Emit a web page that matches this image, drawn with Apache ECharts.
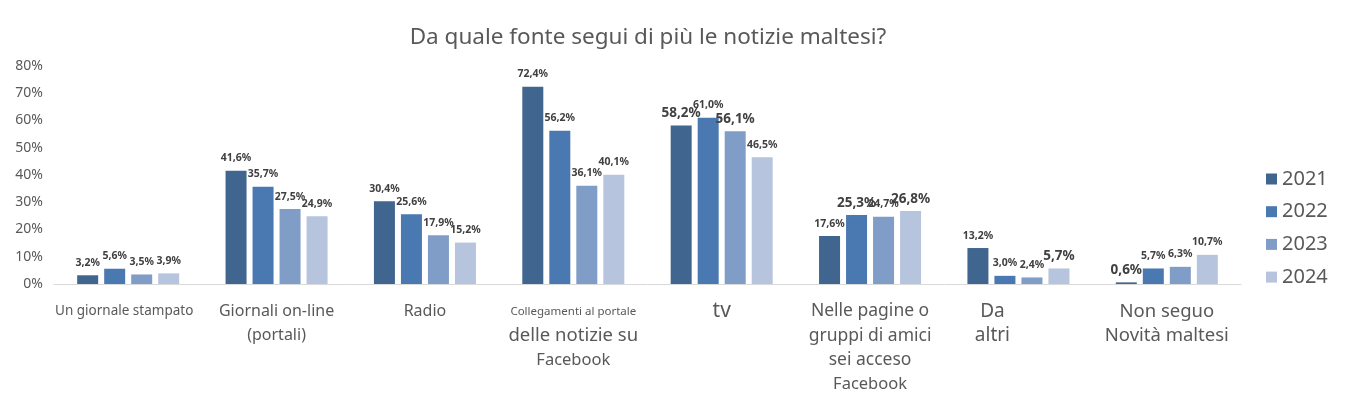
<!DOCTYPE html>
<html><head><meta charset="utf-8">
<script src="https://cdn.jsdelivr.net/npm/echarts@6/dist/echarts.min.js"></script>
<style>html,body{margin:0;padding:0;background:#fff}#c{width:1347px;height:399px}</style>
</head><body><div id="c"></div>
<script>
const categories = ['Un giornale stampato','Giornali on-line (portali)','Radio','Collegamenti al portale delle notizie su Facebook','tv','Nelle pagine o gruppi di amici sei acceso Facebook','Da altri','Non seguo Novità maltesi'];
const seriesNames = ['2021','2022','2023','2024'];
const v2021 = [3.2, 41.6, 30.4, 72.4, 58.2, 17.6, 13.2, 0.6];
const v2022 = [5.6, 35.7, 25.6, 56.2, 61.0, 25.3, 3.0, 5.7];
const v2023 = [3.5, 27.5, 17.9, 36.1, 56.1, 24.7, 2.4, 6.3];
const v2024 = [3.9, 24.9, 15.2, 40.1, 46.5, 26.8, 5.7, 10.7];
const yTicks = [0,10,20,30,40,50,60,70,80];

// label styling (presentation only): which labels appear larger
const bigLabels = [[4, 7], [5], [4], [5, 6]];
const colors = ['#40658f','#4a78b0','#7f9dc7','#b7c4de'];

const catLabelRich = [
  '{s12|Un giornale stampato}',
  '{m16|Giornali on-line}\n{m16|(portali)}',
  '{m16|Radio}',
  '{s11|Collegamenti al portale}\n{l17|delle notizie su}\n{m14|Facebook}',
  '{l19|tv}',
  '{m18|Nelle pagine o}\n{m18|gruppi di amici}\n{m18|sei acceso}\n{m14|Facebook}',
  '{da|Da}\n{da|altri}',
  '{m19|Non seguo}\n{m19|Novità maltesi}'
];

const FONT = 'Noto Sans';
const chart = echarts.init(document.getElementById('c'), null, {renderer:'canvas'});
function fmt(v){ return v.toFixed(1).replace('.', ',') + '%'; }
const allVals = [v2021, v2022, v2023, v2024];
const series = seriesNames.map((name, si) => ({
  name, type: 'bar', barWidth: 21, barGap: '28.6%',
  itemStyle: { color: colors[si] },
  data: allVals[si].map((v, i) => {
    const big = bigLabels[si].includes(i);
    return { value: v, label: { fontSize: big ? 13.5 : 10.5, distance: big ? 5 : 7 } };
  }),
  label: { show: true, position: 'top', fontFamily: FONT, fontWeight: 'bold', color: '#404040',
    formatter: p => fmt(p.value) }
}));

const rs = (size) => ({ fontSize: size, lineHeight: 24.5, fontFamily: FONT, color: '#595959' });

chart.setOption({
  animation: false,
  title: { text: 'Da quale fonte segui di più le notizie maltesi?', left: 643, textAlign: 'center', top: 21,
    textStyle: { fontFamily: FONT, fontSize: 22.5, fontWeight: 'normal', color: '#595959' } },
  legend: { orient: 'vertical', left: 1266, top: 169, padding: 0, align: 'left', itemWidth: 11, itemHeight: 11, itemGap: 12.7,
    icon: 'rect', data: seriesNames,
    textStyle: { fontFamily: FONT, fontSize: 20, color: '#595959' } },
  grid: { left: 54, right: 106, top: 66, bottom: 115 },
  xAxis: { type: 'category', data: categories,
    axisLine: { lineStyle: { color: '#d9d9d9', width: 1 } },
    axisTick: { show: false },
    axisLabel: { interval: 0, margin: 15, color: '#595959', fontFamily: FONT,
      formatter: (val, idx) => catLabelRich[idx],
      rich: {
        s11: rs(11.5), s12: Object.assign(rs(13.5), { padding: [0, 8, 0, 0] }), m14: rs(16.5), m16: rs(16), m18: rs(17.5), m19: rs(18.5),
        l17: rs(18.5), l19: rs(21),
        da: Object.assign(rs(19), { padding: [0, 52, 0, 0] })
      } } },
  yAxis: { type: 'value', min: yTicks[0], max: yTicks[yTicks.length-1], interval: 10,
    splitLine: { show: false }, axisLine: { show: false }, axisTick: { show: false },
    axisLabel: { margin: 11, color: '#595959', fontFamily: FONT, fontSize: 14, formatter: v => v + '%' } },
  series
});
</script></body></html>
